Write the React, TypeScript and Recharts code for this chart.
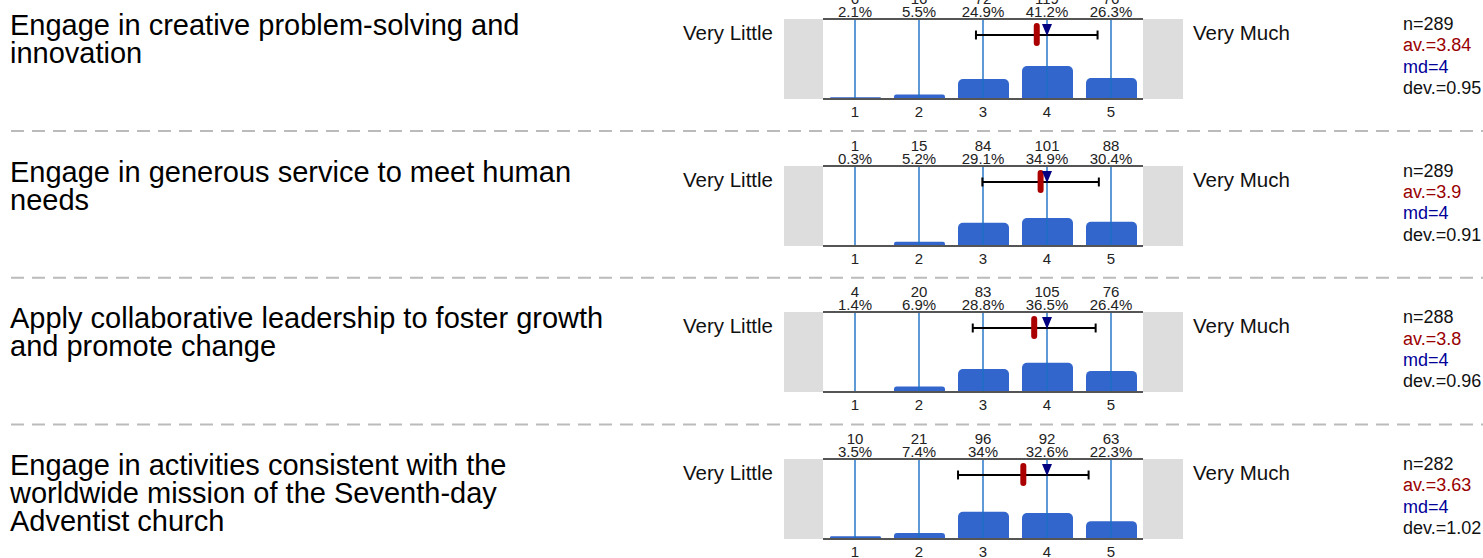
import React from "react";
import { ComposedChart, Bar, XAxis, YAxis, ReferenceLine, ReferenceDot } from "recharts";

const categories = ["1", "2", "3", "4", "5"];
const positions = [1, 2, 3, 4, 5];

const questions = [
  "Engage in creative problem-solving and innovation",
  "Engage in generous service to meet human needs",
  "Apply collaborative leadership to foster growth and promote change",
  "Engage in activities consistent with the worldwide mission of the Seventh-day Adventist church",
];

const counts = [
  [6, 16, 72, 119, 76],
  [1, 15, 84, 101, 88],
  [4, 20, 83, 105, 76],
  [10, 21, 96, 92, 63],
];

const percents = [
  [2.1, 5.5, 24.9, 41.2, 26.3],
  [0.3, 5.2, 29.1, 34.9, 30.4],
  [1.4, 6.9, 28.8, 36.5, 26.4],
  [3.5, 7.4, 34, 32.6, 22.3],
];

const nValues = [289, 289, 288, 282];
const averages = [3.84, 3.9, 3.8, 3.63];
const medians = [4, 4, 4, 4];
const deviations = [0.95, 0.91, 0.96, 1.02];

const leftLabel = "Very Little";
const rightLabel = "Very Much";

// layout
const FIRST_PLOT_TOP = 19;
const ROW_PITCH = 146.7;
const PLOT_H = 80;
const TOP_AXIS_H = 30;
const BOTTOM_AXIS_H = 20;
const CHART_LEFT = 784;
const CHART_W = 400;
const MARGIN_L = 39;
const MARGIN_R = 41;
const ERR_Y = 80; // in y-domain units (0..100)
const FONT = "'Liberation Sans', Arial, sans-serif";

const BottomTick = (props: any) => {
  const { x, y, payload } = props;
  return (
    <text x={x} y={y + 12} textAnchor="middle" dominantBaseline="central" fontSize={15} fill="#222">
      {payload.value}
    </text>
  );
};

const makeTopTick = (row: number) => (props: any) => {
  const { x, y, payload } = props;
  const i = payload.index;
  return (
    <g>
      <text x={x} y={y - 20.5} textAnchor="middle" dominantBaseline="central" fontSize={15} fill="#222">
        {counts[row][i]}
      </text>
      <text x={x} y={y - 7.5} textAnchor="middle" dominantBaseline="central" fontSize={15} fill="#222">
        {`${percents[row][i]}%`}
      </text>
    </g>
  );
};

const MeanMarker = (props: any) => {
  const { cx, cy } = props;
  return <rect x={cx - 3} y={cy - 12} width={6} height={23} rx={3} fill="#aa0000" />;
};

const MedianMarker = (props: any) => {
  const { cx, cy } = props;
  return <polygon points={`${cx - 5},${cy - 11} ${cx + 5},${cy - 11} ${cx},${cy + 1}`} fill="#000080" />;
};

const Row = ({ row }: { row: number }) => {
  const plotTop = FIRST_PLOT_TOP + row * ROW_PITCH;
  const data = categories.map((c, i) => ({ cat: c, pos: positions[i], pct: percents[row][i] }));
  const av = averages[row];
  const dev = deviations[row];
  const capH = 5.6;

  return (
    <>
      <div
        style={{
          position: "absolute",
          left: 10,
          top: plotTop - 8,
          width: 608,
          fontSize: 29,
          lineHeight: "28px",
          color: "#000",
        }}
      >
        {questions[row]}
      </div>
      <div style={{ position: "absolute", left: 683, top: plotTop + 2, fontSize: 20.5, lineHeight: "24px", color: "#111" }}>
        {leftLabel}
      </div>
      <div style={{ position: "absolute", left: 1193, top: plotTop + 2, fontSize: 20.5, lineHeight: "24px", color: "#111" }}>
        {rightLabel}
      </div>
      <div style={{ position: "absolute", left: 1403, top: plotTop - 5, fontSize: 18, lineHeight: "21.3px" }}>
        <div style={{ color: "#111" }}>n={nValues[row]}</div>
        <div style={{ color: "#990000" }}>av.={av}</div>
        <div style={{ color: "#000099" }}>md={medians[row]}</div>
        <div style={{ color: "#111" }}>dev.={dev}</div>
      </div>
      <div style={{ position: "absolute", left: CHART_LEFT, top: plotTop, width: MARGIN_L, height: PLOT_H, background: "#dddddd" }} />
      <div
        style={{
          position: "absolute",
          left: CHART_LEFT + CHART_W - MARGIN_R,
          top: plotTop,
          width: MARGIN_R - 1,
          height: PLOT_H,
          background: "#dddddd",
        }}
      />
      <div style={{ position: "absolute", left: CHART_LEFT, top: plotTop - TOP_AXIS_H }}>
        <ComposedChart
          width={CHART_W}
          height={TOP_AXIS_H + PLOT_H + BOTTOM_AXIS_H}
          data={data}
          margin={{ top: 0, right: MARGIN_R, bottom: 0, left: MARGIN_L }}
        >
          <XAxis
            xAxisId="bottom"
            dataKey="cat"
            orientation="bottom"
            height={BOTTOM_AXIS_H}
            axisLine={{ stroke: "#555", strokeWidth: 2 }}
            tickLine={false}
            tickSize={0}
            tickMargin={0}
            tick={<BottomTick />}
            interval={0}
          />
          <XAxis
            xAxisId="top"
            dataKey="cat"
            orientation="top"
            height={TOP_AXIS_H}
            axisLine={{ stroke: "#555", strokeWidth: 2 }}
            tickLine={false}
            tickSize={0}
            tickMargin={0}
            tick={makeTopTick(row)}
            interval={0}
          />
          <XAxis xAxisId="num" dataKey="pos" type="number" domain={[0.5, 5.5]} allowDataOverflow hide />
          <YAxis type="number" domain={[0, 100]} hide />
          <Bar
            xAxisId="bottom"
            dataKey="pct"
            fill="#3366cc"
            barSize={51}
            radius={[5, 5, 0, 0]}
            isAnimationActive={false}
          />
          {positions.map((p) => (
            <ReferenceLine key={p} xAxisId="num" x={p} stroke="#1a6fc4" strokeWidth={1.4} />
          ))}
          <ReferenceLine
            xAxisId="num"
            segment={[
              { x: av - dev, y: ERR_Y },
              { x: av + dev, y: ERR_Y },
            ]}
            stroke="#000"
            strokeWidth={2}
          />
          <ReferenceLine
            xAxisId="num"
            segment={[
              { x: av - dev, y: ERR_Y - capH },
              { x: av - dev, y: ERR_Y + capH },
            ]}
            stroke="#000"
            strokeWidth={2}
          />
          <ReferenceLine
            xAxisId="num"
            segment={[
              { x: av + dev, y: ERR_Y - capH },
              { x: av + dev, y: ERR_Y + capH },
            ]}
            stroke="#000"
            strokeWidth={2}
          />
          <ReferenceDot xAxisId="num" x={av} y={ERR_Y} shape={MeanMarker} />
          <ReferenceDot xAxisId="num" x={medians[row]} y={ERR_Y} shape={MedianMarker} />
        </ComposedChart>
      </div>
    </>
  );
};

export default function App() {
  const separators = [0, 1, 2].map((i) => FIRST_PLOT_TOP + i * ROW_PITCH + 112);
  return (
    <div
      style={{
        position: "absolute",
        left: 0,
        top: 0,
        width: 1483,
        height: 558,
        overflow: "hidden",
        background: "#fff",
        fontFamily: FONT,
      }}
    >
      <svg style={{ position: "absolute", left: 0, top: 0 }} width={1483} height={558}>
        {separators.map((y) => (
          <line key={y} x1={11} x2={1483} y1={y} y2={y} stroke="#bbbbbb" strokeWidth={2} strokeDasharray="13 8" />
        ))}
      </svg>
      {questions.map((_, r) => (
        <Row key={r} row={r} />
      ))}
    </div>
  );
}
